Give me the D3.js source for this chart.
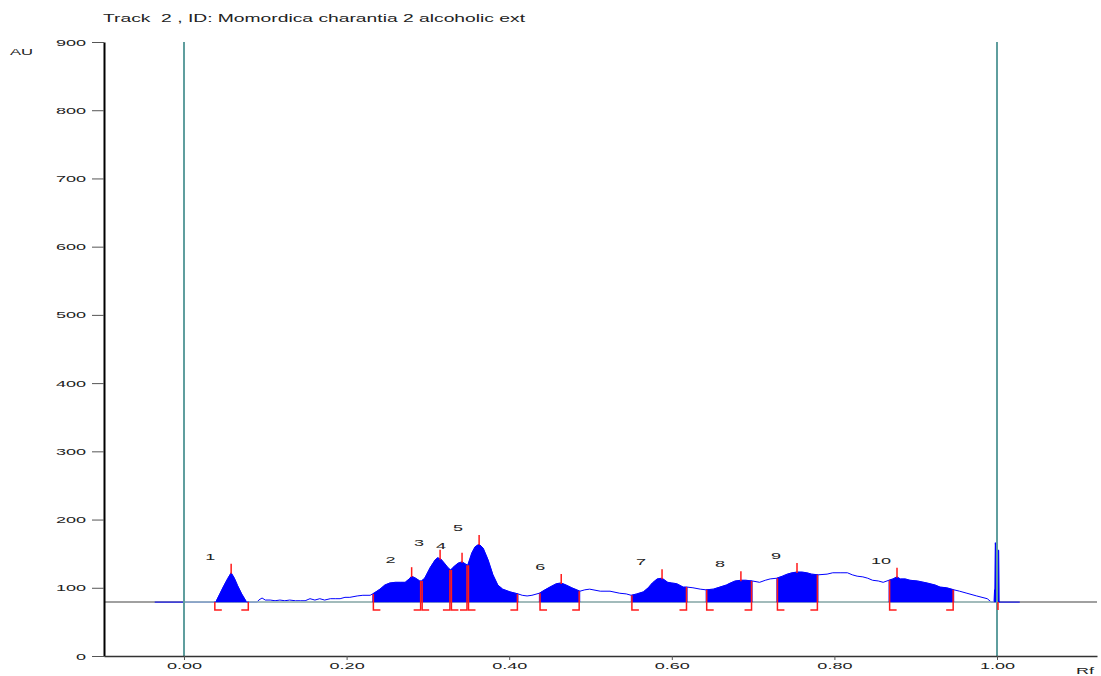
<!DOCTYPE html>
<html>
<head>
<meta charset="utf-8">
<script src="https://cdn.jsdelivr.net/npm/d3@7/dist/d3.min.js"></script>
<style>
body { margin: 0; background: #fff; }
text { font-family: Arial, "Liberation Sans", sans-serif; fill: #222; }
</style>
</head>
<body>
<script>
// densitogram trace, Rf vs AU
var rf = [-0.036, 0.039, 0.044, 0.049, 0.054, 0.058, 0.062, 0.066, 0.071, 0.077,
          0.090, 0.092, 0.096, 0.100, 0.106, 0.112, 0.118, 0.124, 0.130, 0.137,
          0.143, 0.149, 0.155, 0.161, 0.167, 0.173, 0.180, 0.186, 0.192, 0.198,
          0.204, 0.213, 0.220, 0.229, 0.232, 0.236, 0.241, 0.247, 0.253, 0.260,
          0.266, 0.272, 0.277, 0.280, 0.285, 0.290, 0.292, 0.296, 0.303, 0.309,
          0.312, 0.316, 0.321, 0.325, 0.328, 0.331, 0.337, 0.342, 0.346, 0.349,
          0.354, 0.358, 0.363, 0.368, 0.374, 0.380, 0.386, 0.392, 0.401, 0.411,
          0.416, 0.422, 0.428, 0.437, 0.444, 0.450, 0.458, 0.464, 0.470, 0.477,
          0.487, 0.493, 0.499, 0.512, 0.524, 0.536, 0.544, 0.550, 0.557, 0.565,
          0.571, 0.576, 0.582, 0.588, 0.595, 0.600, 0.606, 0.614, 0.619, 0.626,
          0.635, 0.642, 0.651, 0.659, 0.667, 0.672, 0.678, 0.685, 0.691, 0.699,
          0.708, 0.715, 0.721, 0.729, 0.736, 0.742, 0.748, 0.754, 0.760, 0.766,
          0.772, 0.780, 0.791, 0.798, 0.807, 0.816, 0.822, 0.828, 0.835, 0.841,
          0.847, 0.854, 0.860, 0.867, 0.872, 0.877, 0.881, 0.887, 0.893, 0.902,
          0.914, 0.924, 0.930, 0.938, 0.947, 0.954, 0.963, 0.975, 0.988, 0.993,
          0.9965, 0.997, 0.9975, 0.998, 0.9985, 1.002, 1.0025, 1.028];
var au = [79, 79, 91, 103, 114, 122, 114, 103, 91, 79,
          79, 82, 85, 82, 82, 81, 82, 81, 82, 81,
          81, 81, 84, 82, 84, 82, 84, 84, 84, 86,
          86, 88, 89, 89, 91, 94, 98, 104, 107, 108,
          108, 108, 113, 117, 114, 110, 110, 114, 130, 141,
          144, 142, 135, 129, 126, 130, 136, 138, 135, 133,
          151, 160, 164, 158, 141, 119, 104, 98, 94, 91,
          89, 88, 89, 92, 97, 101, 106, 107, 104, 100,
          95, 97, 98, 95, 95, 92, 91, 89, 91, 94,
          100, 107, 113, 114, 108, 107, 106, 101, 101, 100,
          98, 97, 98, 101, 104, 107, 110, 111, 111, 110,
          108, 111, 113, 114, 117, 120, 122, 123, 123, 122,
          120, 119, 120, 122, 122, 122, 119, 117, 116, 114,
          111, 110, 108, 111, 113, 116, 113, 113, 111, 110,
          107, 104, 101, 100, 97, 95, 92, 88, 84, 79,
          79, 97, 97, 166, 155, 155, 79, 79];

var baselineAU = 79;
var peakIds = ["1", "2", "3", "4", "5", "6", "7", "8", "9", "10"];
var peakStart = [0.037, 0.232, 0.292, 0.328, 0.349, 0.437, 0.550, 0.642, 0.729, 0.867];
var peakApex = [0.058, 0.280, 0.315, 0.342, 0.363, 0.464, 0.588, 0.685, 0.754, 0.877];
var peakEnd = [0.080, 0.292, 0.328, 0.349, 0.411, 0.487, 0.619, 0.699, 0.780, 0.947];
var frontSpike = [0.9965, 1.0025];

var yTicks = [0, 100, 200, 300, 400, 500, 600, 700, 800, 900];
var xTicks = [0, 0.2, 0.4, 0.6, 0.8, 1.0];
var title = "Track  2 , ID: Momordica charantia 2 alcoholic ext";

var width = 1101, height = 676;
var x = d3.scaleLinear().domain([-0.0984, 1.123]).range([104, 1097]);
var y = d3.scaleLinear().domain([0, 900]).range([656, 42]);
var base = y(baselineAU);

var pts = rf.map(function(r, i) { return [r, au[i]]; });
var bis = d3.bisector(function(d) { return d[0]; }).left;
function valueAt(r) {
  var i = bis(pts, r);
  if (i <= 0) return pts[0][1];
  if (i >= pts.length) return pts[pts.length - 1][1];
  var a = pts[i - 1], b = pts[i];
  if (b[0] === a[0]) return b[1];
  return a[1] + (b[1] - a[1]) * (r - a[0]) / (b[0] - a[0]);
}

// squash-and-stretch text like the scanner software output
function stretch(sel, k) {
  sel.each(function() {
    var w = this.getComputedTextLength();
    d3.select(this).attr("textLength", w * k).attr("lengthAdjust", "spacingAndGlyphs");
  });
}

var svg = d3.select("body").append("svg")
  .attr("width", width)
  .attr("height", height);

// baseline, grey outside the run, pale teal between start and front
svg.append("line")
  .attr("x1", x.range()[0]).attr("x2", x.range()[1])
  .attr("y1", base).attr("y2", base)
  .attr("stroke", "#808080").attr("stroke-width", 1.5);

var line = d3.line().x(function(d) { return x(d[0]); }).y(function(d) { return y(d[1]); });
svg.append("path")
  .datum(pts)
  .attr("d", line)
  .attr("fill", "none")
  .attr("stroke", "#0000ff")
  .attr("stroke-width", 1);

svg.append("line")
  .attr("x1", x(0)).attr("x2", x(1))
  .attr("y1", base).attr("y2", base)
  .attr("stroke", "#a3c4c4").attr("stroke-width", 1.5);

// integrated peak areas
var area = d3.area()
  .x(function(d) { return x(d[0]); })
  .y0(base)
  .y1(function(d) { return y(d[1]); });

function segment(s, e) {
  var seg = [[s, valueAt(s)]];
  pts.forEach(function(p) { if (p[0] > s && p[0] < e) seg.push(p); });
  seg.push([e, valueAt(e)]);
  return seg;
}

peakIds.forEach(function(id, i) {
  svg.append("path")
    .datum(segment(peakStart[i], peakEnd[i]))
    .attr("d", area)
    .attr("fill", "#0000ff")
    .attr("stroke", "#0000ff")
    .attr("stroke-width", 0.5);
});

// solvent front spike
svg.append("path")
  .datum(segment(frontSpike[0], frontSpike[1]))
  .attr("d", area)
  .attr("fill", "#0000ff")
  .attr("stroke", "#0000ff")
  .attr("stroke-width", 0.5);

// start / front lines
[0, 1].forEach(function(r) {
  svg.append("line")
    .attr("x1", x(r)).attr("x2", x(r))
    .attr("y1", y(900)).attr("y2", y(0))
    .attr("stroke", "#5f9e9e").attr("stroke-width", 2);
});

// red integration marks
var red = "#ff1a1a";
var marks = svg.append("g").attr("stroke", red).attr("stroke-width", 1.5).attr("fill", "none");
var foot = base + 8;
peakIds.forEach(function(id, i) {
  var xs = x(peakStart[i]) + 0.75, xe = x(peakEnd[i]) - 0.75;
  marks.append("path")
    .attr("d", "M" + (xs + 7) + "," + foot + "H" + xs + "V" + y(valueAt(peakStart[i])));
  marks.append("path")
    .attr("d", "M" + (xe - 7) + "," + foot + "H" + xe + "V" + y(valueAt(peakEnd[i])));
  var ya = y(valueAt(peakApex[i]));
  marks.append("line")
    .attr("x1", x(peakApex[i])).attr("x2", x(peakApex[i]))
    .attr("y1", ya + 1).attr("y2", ya - 9);
  svg.append("text")
    .attr("x", x(peakApex[i]) - 26)
    .attr("y", ya - 13)
    .attr("font-size", "9.5px")
    .text(id)
    .call(stretch, 1.9);
});
marks.append("line")
  .attr("x1", x(1) + 1).attr("x2", x(1) + 1)
  .attr("y1", base).attr("y2", foot);

// axes
var yAxis = svg.append("g")
  .attr("transform", "translate(" + x.range()[0] + ",0)")
  .call(d3.axisLeft(y).tickValues(yTicks).tickSize(12).tickSizeOuter(0).tickPadding(6));
yAxis.select(".domain").attr("stroke", "#000").attr("stroke-width", 2);
yAxis.selectAll(".tick line").attr("stroke", "#555");
yAxis.selectAll("text").attr("font-size", "9.5px").attr("fill", "#222").call(stretch, 1.9);

var xAxis = svg.append("g")
  .attr("transform", "translate(0," + y(0) + ")")
  .call(d3.axisBottom(x).tickValues(xTicks).tickFormat(d3.format(".2f")).tickSize(4).tickSizeOuter(0).tickPadding(2));
xAxis.select(".domain").attr("stroke", "#333").attr("stroke-width", 1.5);
xAxis.selectAll(".tick line").attr("stroke", "#555");
xAxis.selectAll("text").attr("font-size", "9.5px").attr("fill", "#222").call(stretch, 1.9);

// titles
svg.append("text")
  .attr("x", 103).attr("y", 22)
  .attr("font-size", "10.5px")
  .style("white-space", "pre")
  .attr("textLength", 422)
  .attr("lengthAdjust", "spacingAndGlyphs")
  .text(title);

svg.append("text")
  .attr("x", 10).attr("y", 55)
  .attr("font-size", "9.5px")
  .text("AU")
  .call(stretch, 1.75);

svg.append("text")
  .attr("x", 1076).attr("y", 674)
  .attr("font-size", "9.5px")
  .text("Rf")
  .call(stretch, 1.9);
</script>
</body>
</html>
